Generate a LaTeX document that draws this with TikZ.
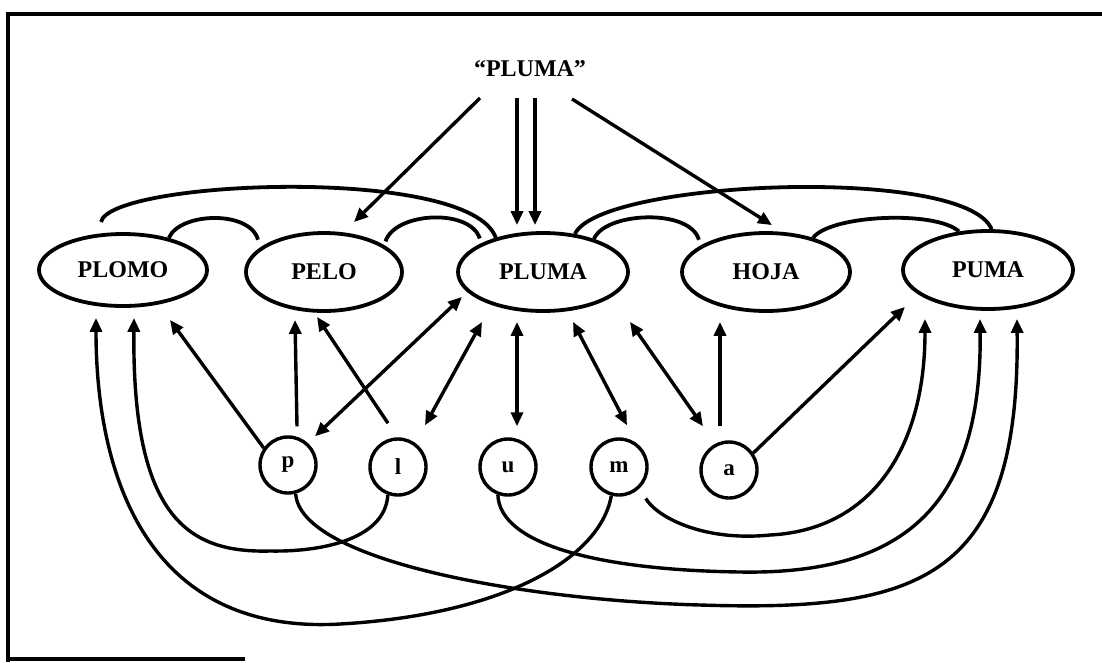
\documentclass[tikz,border=0pt]{standalone}
\usepackage{fontspec}
\setmainfont{Liberation Serif}
\usetikzlibrary{shapes.geometric,arrows.meta,calc}
\begin{document}
\begin{tikzpicture}[x=1pt,y=-1pt,
  word/.style={ellipse,draw,line width=3.8pt,inner sep=0pt,font=\fontsize{24}{24}\selectfont\bfseries},
  letter/.style={circle,draw,line width=3.4pt,minimum size=56pt,inner sep=0pt,font=\fontsize{23}{23}\selectfont\bfseries},
  link/.style={line width=3.8pt},
  arr/.style={line width=3.4pt,-{Triangle[length=14pt,width=12pt]}},
  darr/.style={line width=3.4pt,{Triangle[length=14pt,width=12pt]}-{Triangle[length=14pt,width=12pt]}},
  frame/.style={line width=3.2pt}
]
\useasboundingbox (0,0) rectangle (1102,662);
% frame
\draw[frame] (8,662) -- (8,14) -- (1102,14);
\draw[frame] (8,659) -- (245,659);

% title
\node[font=\fontsize{24}{24}\selectfont\bfseries] (T) at (530,69) {“PLUMA”};

% word nodes
\node[word,minimum width=168pt,minimum height=72pt] (plomo) at (123,270) {PLOMO};
\node[word,minimum width=156pt,minimum height=78pt] (pelo) at (324,272) {PELO};
\node[word,minimum width=170pt,minimum height=78pt] (pluma) at (543,272) {PLUMA};
\node[word,minimum width=168pt,minimum height=78pt] (hoja) at (766,272) {HOJA};
\node[word,minimum width=170pt,minimum height=78pt] (puma) at (988,270) {PUMA};

% letter nodes
\node[letter] (p) at (288,465) {p};
\node[letter] (l) at (398,467) {l};
\node[letter] (u) at (508,467) {u};
\node[letter] (m) at (619,467) {m};
\node[letter] (a) at (729,470) {a};

% title arrows
\draw[arr] ([xshift=-50pt,yshift=-29pt]T.center) -- ([xshift=30pt,yshift=9pt]pelo.north);
\draw[arr] ([xshift=-13pt,yshift=-29pt]T.center) -- ([xshift=-26pt,yshift=6pt]pluma.north);
\draw[arr] ([xshift=5pt,yshift=-29pt]T.center) -- ([xshift=-8pt,yshift=6pt]pluma.north);
\draw[arr] ([xshift=42pt,yshift=-30pt]T.center) -- ([xshift=6pt,yshift=6pt]hoja.north);

% arcs between words
\draw[link,shorten <=12pt] (plomo.124) .. controls (110,180) and (470,165) .. (pluma.144);
\draw[link,shorten >=8pt] (plomo.35) .. controls (180,212) and (250,210) .. (pelo.159);
\draw[link,shorten <=4pt,shorten >=5pt] (pelo.24) .. controls (395,212) and (470,208) .. (pluma.155);
\draw[link] (pluma.50) .. controls (600,180) and (965,165) .. (puma.85);
\draw[link,shorten >=6pt] (pluma.33) .. controls (605,212) and (690,208) .. (hoja.158);
\draw[link] (hoja.36) .. controls (830,215) and (935,210) .. (puma.127);

% straight letter-word links
\draw[arr] (p.145) -- ([xshift=47pt,yshift=-12pt]plomo.south);
\draw[arr] ([xshift=9pt,yshift=9pt]p.north) -- ([xshift=-29pt,yshift=-7pt]pelo.south);
\draw[arr] ([xshift=-10pt,yshift=14pt]l.north) -- ([xshift=-7pt,yshift=-4pt]pelo.south);
\draw[darr] ([xshift=27pt,yshift=-1pt]p.north) -- ([xshift=-81pt,yshift=16pt]pluma.south);
\draw[darr] ([xshift=27pt,yshift=12pt]l.north) -- ([xshift=-61pt,yshift=-9pt]pluma.south);
\draw[darr] ([xshift=9pt,yshift=11pt]u.north) -- ([xshift=-26pt,yshift=-9pt]pluma.south);
\draw[darr] ([xshift=8pt,yshift=12pt]m.north) -- ([xshift=30pt,yshift=-9pt]pluma.south);
\draw[darr] ([xshift=-26pt,yshift=14pt]a.north) -- ([xshift=87pt,yshift=-9pt]pluma.south);
\draw[arr] ([xshift=-9pt,yshift=14pt]a.north) -- ([xshift=-46pt,yshift=-9pt]hoja.south);
\draw[arr] (a.35) -- ([xshift=-83pt,yshift=4pt]puma.south);

% curved letter-word links
\draw[arr] (p.-75) .. controls (300,560) and (520,600) .. (700,605)
  .. controls (920,612) and (1020,580) .. ([xshift=29pt,yshift=-8pt]puma.south);
\draw[arr] (l.-110) .. controls (385,540) and (320,552) .. (270,551)
  .. controls (190,553) and (132,520) .. ([xshift=11pt,yshift=-10pt]plomo.south);
\draw[arr] (m.-105) .. controls (600,560) and (500,615) .. (340,624)
  .. controls (150,635) and (96,480) .. ([xshift=-27pt,yshift=-10pt]plomo.south);
\draw[arr] (u.-110) .. controls (500,545) and (600,570) .. (740,572)
  .. controls (910,575) and (982,500) .. ([xshift=-8pt,yshift=-8pt]puma.south);
\draw[arr,shorten <=12pt] (m.-45) .. controls (655,515) and (700,542) .. (770,535)
  .. controls (870,530) and (925,450) .. ([xshift=-63pt,yshift=-8pt]puma.south);
\end{tikzpicture}
\end{document}
